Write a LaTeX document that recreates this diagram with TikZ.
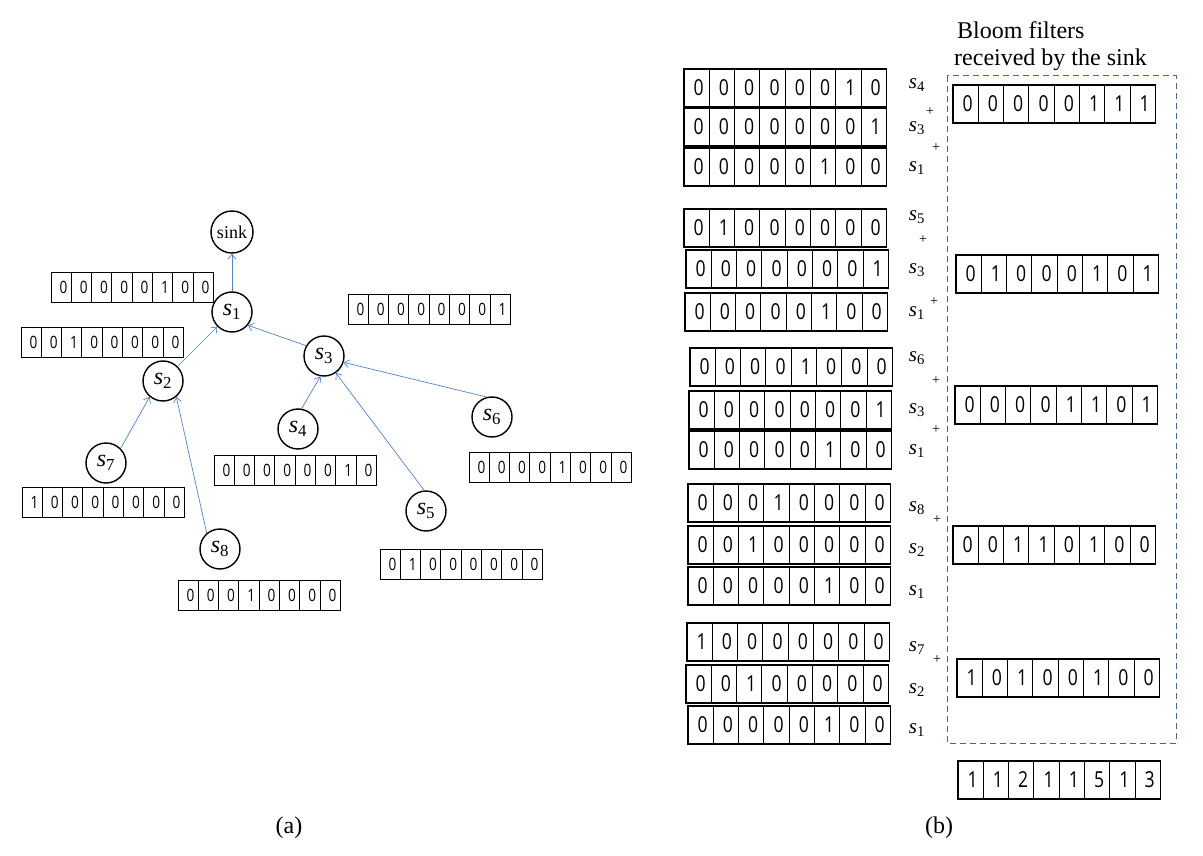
\documentclass[tikz,border=0pt]{standalone}
\usepackage{fontspec}
\setmainfont{Liberation Serif}
\newfontfamily\bitfont[FakeStretch=0.8]{Open Sans}
\usetikzlibrary{arrows.meta}

\definecolor{edgeblue}{RGB}{84,130,196}
\definecolor{boxgray}{RGB}{70,100,150}

\tikzset{
  sensor/.style={circle, draw, line width=1.4pt, minimum size=40pt, inner sep=0pt,
    font=\fontsize{24}{24}\selectfont},
  sinknode/.style={sensor, minimum size=42pt, font=\fontsize{18}{18}\selectfont},
  lbit/.style={draw, line width=0.9pt, minimum width=20.3pt, minimum height=30pt,
    text width=12.3pt, inner xsep=4pt, inner ysep=0pt, align=right,
    font=\bitfont\fontsize{17}{17}\selectfont},
  rbit/.style={draw, line width=1.1pt, minimum width=25.3pt, minimum height=38pt,
    text width=14.1pt, inner xsep=5.6pt, inner ysep=0pt, align=right,
    font=\bitfont\fontsize{22}{22}\selectfont},
  link/.style={->, edgeblue, line width=0.7pt},
  tag/.style={inner sep=0pt, font=\fontsize{21}{21}\selectfont},
  plus/.style={inner sep=0pt, font=\fontsize{14}{14}\selectfont},
  caption/.style={inner sep=0pt, font=\fontsize{24}{24}\selectfont}
}

\newcommand{\sname}[1]{\textit{s}\textsubscript{#1}}
\newcommand{\bitrow}[6]{%
  \foreach \b [count=\i] in {#6}
    \node[#1] (#2-\i) at ({#3+(\i-0.5)*#5}, #4) {\b};
}

\begin{document}
\begin{tikzpicture}[x=1pt, y=-1pt, >={Straight Barb[length=5pt, width=8pt]}]
  \fill[white] (0,0) rectangle (1203,856);
  \useasboundingbox (0,0) rectangle (1203,856);

  \node[sinknode] (sink) at (232,232) {sink};
  \node[sensor] (s1) at (232,312) {\sname{1}};
  \node[sensor] (s2) at (163,381) {\sname{2}};
  \node[sensor] (s3) at (324,356) {\sname{3}};
  \node[sensor] (s4) at (298,429) {\sname{4}};
  \node[sensor] (s5) at (426,511) {\sname{5}};
  \node[sensor] (s6) at (492,417) {\sname{6}};
  \node[sensor] (s7) at (106,463) {\sname{7}};
  \node[sensor] (s8) at (220,549) {\sname{8}};

  \draw[link] (s1) -- (sink);
  \draw[link] (s2.45) -- (s1.225);
  \draw[link] (s3.150) -- (s1.-40);
  \draw[link] (s4.80) -- (s3.-100);
  \draw[link] (s5.95) -- (s3.-55);
  \draw[link] (s6.105) -- (s3.-18);
  \draw[link] (s7.45) -- (s2.230);
  \draw[link] (s8.130) -- (s2.-50);

  \bitrow{lbit}{bfa}{51}{287}{20.3}{0,0,0,0,0,1,0,0}
  \bitrow{lbit}{bfb}{21}{342}{20.3}{0,0,1,0,0,0,0,0}
  \bitrow{lbit}{bfc}{348}{309}{20.3}{0,0,0,0,0,0,0,1}
  \bitrow{lbit}{bfd}{214}{470}{20.3}{0,0,0,0,0,0,1,0}
  \bitrow{lbit}{bfe}{380}{564}{20.3}{0,1,0,0,0,0,0,0}
  \bitrow{lbit}{bff}{469}{467}{20.3}{0,0,0,0,1,0,0,0}
  \bitrow{lbit}{bfg}{22}{502}{20.3}{1,0,0,0,0,0,0,0}
  \bitrow{lbit}{bfh}{178}{595}{20.3}{0,0,0,1,0,0,0,0}

  \node[caption] (capa) at (289,828) {(a)};

  \node[caption, anchor=west] (title1) at (957,30) {Bloom filters};
  \node[caption, anchor=west] (title2) at (954,60) {received by the sink};
  \coordinate (boxnw) at (947,76);
  \coordinate (boxse) at (1176,743);
  \draw[boxgray, line width=1pt, dash pattern=on 6pt off 4pt] (boxnw) rectangle (boxse);

  \bitrow{rbit}{ga}{684}{88}{25.3}{0,0,0,0,0,0,1,0}
  \bitrow{rbit}{gb}{684}{127}{25.3}{0,0,0,0,0,0,0,1}
  \bitrow{rbit}{gc}{684}{167}{25.3}{0,0,0,0,0,1,0,0}
  \bitrow{rbit}{ra}{953}{104}{25.3}{0,0,0,0,0,1,1,1}

  \bitrow{rbit}{ha}{684}{228}{25.3}{0,1,0,0,0,0,0,0}
  \bitrow{rbit}{hb}{686}{269}{25.3}{0,0,0,0,0,0,0,1}
  \bitrow{rbit}{hc}{685}{312}{25.3}{0,0,0,0,0,1,0,0}
  \bitrow{rbit}{rb}{956}{274}{25.3}{0,1,0,0,0,1,0,1}

  \bitrow{rbit}{ia}{690}{367}{25.3}{0,0,0,0,1,0,0,0}
  \bitrow{rbit}{ib}{689}{410}{25.3}{0,0,0,0,0,0,0,1}
  \bitrow{rbit}{ic}{689}{450}{25.3}{0,0,0,0,0,1,0,0}
  \bitrow{rbit}{rc}{955}{405}{25.3}{0,0,0,0,1,1,0,1}

  \bitrow{rbit}{ja}{688}{503}{25.3}{0,0,0,1,0,0,0,0}
  \bitrow{rbit}{jb}{688}{545}{25.3}{0,0,1,0,0,0,0,0}
  \bitrow{rbit}{jc}{688}{586}{25.3}{0,0,0,0,0,1,0,0}
  \bitrow{rbit}{rd}{953}{545}{25.3}{0,0,1,1,0,1,0,0}

  \bitrow{rbit}{ka}{687}{642}{25.3}{1,0,0,0,0,0,0,0}
  \bitrow{rbit}{kb}{686}{684}{25.3}{0,0,1,0,0,0,0,0}
  \bitrow{rbit}{kc}{688}{725}{25.3}{0,0,0,0,0,1,0,0}
  \bitrow{rbit}{re}{957}{678}{25.3}{1,0,1,0,0,1,0,0}

  \bitrow{rbit}{total}{958}{780}{25.3}{1,1,2,1,1,5,1,3}

  \foreach \nm/\px/\py/\txt in {ta1/917/85/4, ta2/917/128/3, ta3/917/168/1,
      tb1/917/217/5, tb2/917/270/3, tb3/917/313/1,
      tc1/917/358/6, tc2/917/410/3, tc3/917/451/1,
      td1/917/508/8, td2/917/550/2, td3/917/592/1,
      te1/917/648/7, te2/917/690/2, te3/917/730/1}
    \node[tag] (\nm) at (\px,\py) {\sname{\txt}};

  \foreach \nm/\px/\py in {pa1/930/112, pa2/936/148, pb1/923/240, pb2/934/302,
      pc1/936/381, pc2/936/430, pd1/937/520, pe1/937/660}
    \node[plus] (\nm) at (\px,\py) {+};

  \node[caption] (capb) at (939,828) {(b)};
\end{tikzpicture}
\end{document}
